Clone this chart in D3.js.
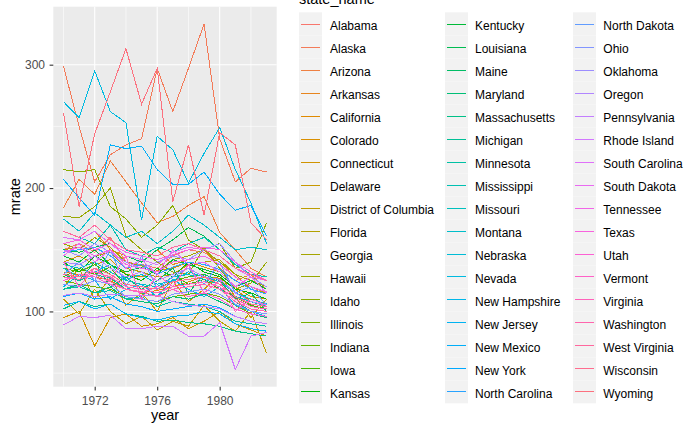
<!DOCTYPE html>
<html><head><meta charset="utf-8">
<script src="https://cdn.jsdelivr.net/npm/d3@7"></script>
<style>body{margin:0;background:#fff}svg{display:block}text{font-family:"Liberation Sans",Arial,sans-serif}</style>
</head><body><svg id="c" width="700" height="432"></svg>
<script>
const years = [1970,1971,1972,1973,1974,1975,1976,1977,1978,1979,1980,1981,1982,1983];
const stateNames = ["Alabama","Alaska","Arizona","Arkansas","California","Colorado","Connecticut","Delaware","District of Columbia","Florida","Georgia","Hawaii","Idaho","Illinois","Indiana","Iowa","Kansas","Kentucky","Louisiana","Maine","Maryland","Massachusetts","Michigan","Minnesota","Mississippi","Missouri","Montana","Nebraska","Nevada","New Hampshire","New Jersey","New Mexico","New York","North Carolina","North Dakota","Ohio","Oklahoma","Oregon","Pennsylvania","Rhode Island","South Carolina","South Dakota","Tennessee","Texas","Utah","Vermont","Virginia","Washington","West Virginia","Wisconsin","Wyoming"];

const Alabama       = [150,155,148,160,140,138,135,145,150,148,140,128,120,115];
const Alaska        = [299,250,205,227,235,240,297,262,297,333,240,205,216,213];
const Arizona       = [184,207,195,222,205,188,172,177,186,193,164,150,135,128];
const Arkansas      = [160,158,165,150,145,140,150,138,142,150,135,125,130,118];
const California    = [132,130,128,125,118,115,117,120,124,128,127,118,108,104];
const Colorado      = [140,145,138,142,130,128,133,135,140,136,132,120,112,110];
const Connecticut   = [95,100,72,95,98,88,90,95,86,92,100,90,85,80];
const Delaware      = [120,135,110,128,105,115,100,125,108,118,130,112,95,110];
const DistColumbia  = [110,98,118,100,90,96,85,92,88,105,92,84,100,66];
const Florida       = [150,152,145,148,135,132,128,130,138,140,142,130,118,115];
const Georgia       = [155,150,160,152,140,137,132,142,145,150,140,130,125,120];
const Hawaii        = [177,176,185,200,161,150,140,132,130,152,135,118,123,140];
const Idaho         = [215,213,215,185,175,160,170,186,158,150,155,135,140,172];
const Illinois      = [125,122,120,118,112,110,108,112,114,115,112,105,98,95];
const Indiana       = [135,132,138,130,122,120,118,125,128,130,125,115,108,105];
const Iowa          = [128,135,130,136,120,118,125,130,122,126,118,112,105,102];
const Kansas        = [140,132,145,138,130,125,135,128,140,132,128,118,115,110];
const Kentucky      = [145,140,150,138,132,136,130,142,138,134,130,120,125,118];
const Louisiana     = [150,148,152,155,145,140,150,158,168,161,150,138,130,125];
const Maine         = [130,125,140,120,128,118,125,135,115,130,125,110,115,100];
const Maryland      = [118,122,115,120,110,108,106,112,110,114,108,102,98,95];
const Massachusetts = [102,108,104,106,98,96,92,93,91,90,88,84,82,80];
const Michigan      = [128,125,130,127,118,115,113,118,120,122,118,108,100,98];
const Minnesota     = [118,120,115,117,110,112,104,108,106,104,100,92,90,88];
const Mississippi   = [165,160,155,170,150,145,152,148,155,160,150,138,130,128];
const Missouri      = [138,135,140,132,125,122,120,128,130,126,122,112,108,104];
const Montana       = [175,165,180,170,160,165,155,165,178,170,160,150,152,150];
const Nebraska      = [135,128,132,138,126,130,122,125,132,128,124,115,110,106];
const Nevada        = [270,257,295,262,253,174,242,231,204,228,249,215,188,155];
const NewHampshire  = [120,130,125,110,118,122,112,126,118,112,120,105,100,96];
const NewJersey     = [105,108,102,106,98,95,93,96,97,100,98,90,86,84];
const NewMexico     = [207,192,178,235,232,234,215,203,203,213,195,182,186,161];
const NewYork       = [112,115,110,112,106,104,100,102,104,106,103,96,92,90];
const NorthCarolina = [148,150,152,145,135,138,130,136,140,138,134,125,118,114];
const NorthDakota   = [130,140,125,150,120,145,118,128,135,122,140,115,120,105];
const Ohio          = [122,120,125,122,112,110,108,114,116,118,114,106,100,98];
const Oklahoma      = [150,145,155,148,140,135,140,145,142,150,155,140,128,120];
const Oregon        = [140,138,145,135,128,132,125,130,135,128,126,115,108,105];
const Pennsylvania  = [113,115,112,114,113,113,113,108,105,104,102,96,92,90];
const RhodeIsland   = [89,96,95,97,86,86,88,88,80,80,91,53,80,83];
const SouthCarolina = [160,158,165,155,145,142,138,148,152,150,145,135,128,125];
const SouthDakota   = [145,155,140,150,135,142,130,150,138,140,132,120,128,115];
const Tennessee     = [148,152,145,150,138,135,132,140,142,145,138,128,120,116];
const Texas         = [155,158,150,155,148,145,142,146,150,152,150,140,132,125];
const Utah          = [125,130,128,122,118,115,120,118,112,115,110,102,98,96];
const Vermont       = [140,120,135,125,145,110,130,120,138,115,125,100,110,105];
const Virginia      = [130,128,132,128,120,118,115,120,122,124,120,110,104,102];
const Washington    = [128,126,130,124,118,116,112,118,120,122,118,108,102,100];
const WestVirginia  = [165,160,170,158,150,148,145,152,155,150,145,135,130,125];
const Wisconsin     = [130,128,135,130,122,120,118,124,126,128,122,112,106,104];
const Wyoming       = [261,185,244,278,313,268,297,189,235,178,245,235,172,158];

const seriesList = [Alabama,Alaska,Arizona,Arkansas,California,Colorado,Connecticut,Delaware,DistColumbia,Florida,Georgia,Hawaii,Idaho,Illinois,Indiana,Iowa,Kansas,Kentucky,Louisiana,Maine,Maryland,Massachusetts,Michigan,Minnesota,Mississippi,Missouri,Montana,Nebraska,Nevada,NewHampshire,NewJersey,NewMexico,NewYork,NorthCarolina,NorthDakota,Ohio,Oklahoma,Oregon,Pennsylvania,RhodeIsland,SouthCarolina,SouthDakota,Tennessee,Texas,Utah,Vermont,Virginia,Washington,WestVirginia,Wisconsin,Wyoming];

const xMajor = [1972,1976,1980];
const xMinor = [1970,1974,1978,1982];
const yMajor = [100,200,300];
const yMinor = [50,150,250];

// R's grDevices::hcl (polar CIE-LUV) -> sRGB hex
function rHcl(h, c, l) {
  const Xn = 95.047, Yn = 100, Zn = 108.883;
  const hr = h * Math.PI / 180;
  const U = c * Math.cos(hr), V = c * Math.sin(hr);
  const Y = l > 8 ? Yn * Math.pow((l + 16) / 116, 3) : Yn * l / 903.3;
  const t = Xn + 15 * Yn + 3 * Zn;
  const un = 4 * Xn / t, vn = 9 * Yn / t;
  const up = U / (13 * l) + un, vp = V / (13 * l) + vn;
  const X = 9 * Y * up / (4 * vp);
  const Z = -X / 3 - 5 * Y + 3 * Y / vp;
  const x = X / 100, y = Y / 100, z = Z / 100;
  const lin = [
    3.240479 * x - 1.537150 * y - 0.498535 * z,
    -0.969256 * x + 1.875992 * y + 0.041556 * z,
    0.055648 * x - 0.204043 * y + 1.057311 * z];
  const g = lin.map(v => {
    let s = v <= 0.0031308 ? 12.92 * v : 1.055 * Math.pow(v, 1 / 2.4) - 0.055;
    return Math.round(255 * Math.max(0, Math.min(1, s)));
  });
  return d3.rgb(g[0], g[1], g[2]).formatHex();
}
const n = stateNames.length;
const colors = stateNames.map((s, i) => rHcl(15 + i * 360 / n, 100, 65));
const color = d3.scaleOrdinal().domain(stateNames).range(colors);

const svg = d3.select("#c");
const P = {left: 53.3, right: 276.7, top: 6.7, bottom: 386.7};

const xe = d3.extent(years), xp = (xe[1] - xe[0]) * 0.05;
const x = d3.scaleLinear().domain([xe[0] - xp, xe[1] + xp]).range([P.left, P.right]);
const ye = d3.extent(seriesList.flat()), yp = (ye[1] - ye[0]) * 0.05;
const y = d3.scaleLinear().domain([ye[0] - yp, ye[1] + yp]).range([P.bottom, P.top]);

svg.append("rect").attr("x", P.left).attr("y", P.top)
  .attr("width", P.right - P.left).attr("height", P.bottom - P.top).attr("fill", "#EBEBEB");

const grid = svg.append("g").attr("stroke", "#fff").attr("fill", "none");
grid.selectAll(".xm").data(xMinor).join("line")
  .attr("x1", d => x(d)).attr("x2", d => x(d)).attr("y1", P.top).attr("y2", P.bottom).attr("stroke-width", 0.6);
grid.selectAll(".ym").data(yMinor).join("line")
  .attr("y1", d => y(d)).attr("y2", d => y(d)).attr("x1", P.left).attr("x2", P.right).attr("stroke-width", 0.6);
grid.selectAll(".xM").data(xMajor).join("line")
  .attr("x1", d => x(d)).attr("x2", d => x(d)).attr("y1", P.top).attr("y2", P.bottom).attr("stroke-width", 1.1);
grid.selectAll(".yM").data(yMajor).join("line")
  .attr("y1", d => y(d)).attr("y2", d => y(d)).attr("x1", P.left).attr("x2", P.right).attr("stroke-width", 1.1);

const line = d3.line().x((d, i) => x(years[i])).y(d => y(d));
svg.append("g").attr("fill", "none").attr("stroke-width", 1).attr("shape-rendering", "crispEdges")
  .selectAll("path").data(seriesList).join("path")
  .attr("stroke", (d, i) => color(stateNames[i])).attr("d", line);

// axes
const xAxis = svg.append("g").attr("transform", `translate(0,${P.bottom})`)
  .call(d3.axisBottom(x).tickValues(xMajor).tickFormat(d3.format("d")).tickSize(3.7).tickPadding(6));
const yAxis = svg.append("g").attr("transform", `translate(${P.left},0)`)
  .call(d3.axisLeft(y).tickValues(yMajor).tickSize(3.7).tickPadding(4.6));
[xAxis, yAxis].forEach(a => {
  a.select(".domain").remove();
  a.selectAll(".tick line").attr("stroke", "#333333").attr("stroke-width", 1.1);
  a.selectAll(".tick text").attr("fill", "#4D4D4D").style("font-size", "12px")
    .style("font-family", '"Liberation Sans",Arial,sans-serif');
});

svg.append("text").attr("x", (P.left + P.right) / 2).attr("y", 419.5)
  .attr("text-anchor", "middle").style("font-size", "14.5px").attr("fill", "#000").text("year");
svg.append("text").attr("transform", `translate(20,${(P.top + P.bottom) / 2}) rotate(-90)`)
  .attr("text-anchor", "middle").style("font-size", "14.5px").attr("fill", "#000").text("mrate");

// legend
const keyX = [299, 445, 573], labX = [330, 475, 603.3];
const rows = 17, keyTop = 12.3, keyH = 23;
const leg = svg.append("g");
leg.append("text").attr("x", 299).attr("y", 3.5).style("font-size", "14.5px").attr("fill", "#000").text("state_name");
const items = leg.selectAll("g.item").data(stateNames).join("g").attr("class", "item")
  .attr("transform", (d, i) => `translate(${keyX[Math.floor(i / rows)]},${keyTop + (i % rows) * keyH})`);
items.append("rect").attr("width", 23).attr("height", keyH).attr("fill", "#F2F2F2");
items.append("line").attr("x1", 2.3).attr("x2", 20.7).attr("y1", 11.7).attr("y2", 11.7)
  .attr("stroke", d => color(d)).attr("stroke-width", 1).attr("shape-rendering", "crispEdges");
items.append("text").attr("x", (d, i) => labX[Math.floor(i / rows)] - keyX[Math.floor(i / rows)])
  .attr("y", 17.8).style("font-size", "12px").attr("fill", "#000").text(d => d);
</script></body></html>
